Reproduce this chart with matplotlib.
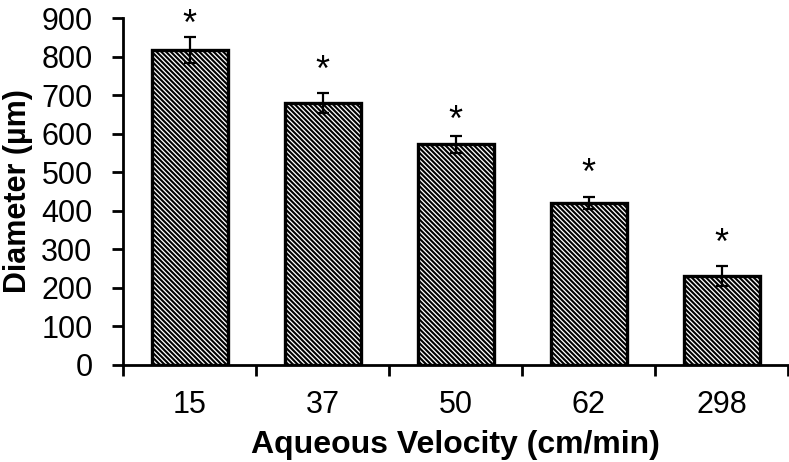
import matplotlib.pyplot as plt
import numpy as np

plt.rcParams["font.family"] = ["Liberation Sans", "DejaVu Sans"]
plt.rcParams["hatch.linewidth"] = 1.5

velocities = ["15", "37", "50", "62", "298"]
diameters = [817, 679, 573, 420, 231]
errors = [33, 26, 22, 16, 25]
star_heights = [910, 791, 661, 524, 342]

fig = plt.figure(figsize=(7.89, 4.62), dpi=100)
ax = fig.add_axes([0.156, 0.21, 0.843, 0.751])

x = np.arange(len(velocities))
ax.bar(x, diameters, width=0.57, color="white", edgecolor="black",
       linewidth=2.4, hatch="\\" * 7, zorder=2)
ax.errorbar(x, diameters, yerr=errors, fmt="none", ecolor="black",
            elinewidth=1.6, capsize=4, capthick=1.6, zorder=3)

# significance markers
star_fs = 26
for xi, h in zip(x, star_heights):
    ax.annotate("*", (xi, h), xytext=(0, -0.57 * star_fs), textcoords="offset points",
                ha="center", va="baseline", fontsize=star_fs, annotation_clip=False)

ax.set_xlim(-0.5, len(velocities) - 0.5)
ax.set_ylim(0, 900)
ax.set_yticks(range(0, 901, 100))
ax.set_xticks(x)
ax.set_xticklabels(velocities)
ax.set_xticks(np.arange(-0.5, len(velocities)), minor=True)

ax.tick_params(axis="y", direction="out", length=8, width=2, labelsize=22, pad=14)
ax.tick_params(axis="x", which="major", length=0, labelsize=22, pad=18)
ax.tick_params(axis="x", which="minor", direction="out", length=8, width=2)

ax.spines["top"].set_visible(False)
ax.spines["right"].set_visible(False)
ax.spines["left"].set_linewidth(2)
ax.spines["bottom"].set_linewidth(2)

ax.set_ylabel("Diameter (µm)", fontsize=22, fontweight="bold", labelpad=6)
ax.set_xlabel("Aqueous Velocity (cm/min)", fontsize=23, fontweight="bold", labelpad=7)

fig.savefig("out.png", dpi=100, facecolor="white")
